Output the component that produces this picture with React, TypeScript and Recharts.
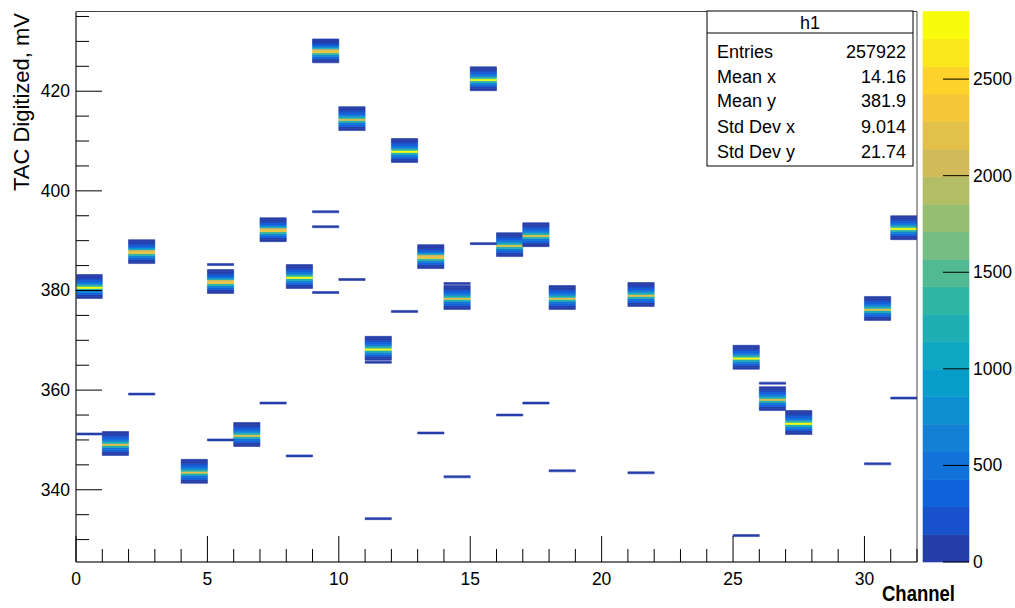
import { ComposedChart, ReferenceArea, XAxis, YAxis } from "recharts";

const X_MIN = 0;
const X_MAX = 32;
const Y_MIN = 325.5;
const Y_MAX = 436;
const Z_MAX = 2850;
const N_LEVELS = 20;
const BIN_H = 0.4;

const xTicks = [0, 1, 2, 3, 4, 5, 6, 7, 8, 9, 10, 11, 12, 13, 14, 15, 16, 17, 18, 19, 20, 21, 22, 23, 24, 25, 26, 27, 28, 29, 30, 31, 32];
const yTicks = [330, 335, 340, 345, 350, 355, 360, 365, 370, 375, 380, 385, 390, 395, 400, 405, 410, 415, 420, 425, 430, 435];
const zTicks = [0, 500, 1000, 1500, 2000, 2500];

// main cluster of each channel: lower edge (mV) and which profile it looks like
const clusterChannels = [0, 1, 2, 4, 5, 6, 7, 8, 9, 10, 11, 12, 13, 14, 15, 16, 17, 18, 21, 25, 26, 27, 30, 31];
const clusterBottoms = [378.4, 346.9, 385.4, 341.3, 379.4, 348.7, 389.8, 380.4, 425.7, 412.1, 366.0, 405.7, 384.4, 376.2, 420.1, 386.8, 388.8, 376.2, 376.8, 364.2, 355.9, 351.1, 374.0, 390.2];
const clusterShapes = [0, 2, 1, 2, 1, 2, 1, 0, 1, 2, 0, 0, 1, 2, 0, 2, 2, 2, 2, 0, 2, 0, 2, 0];

// counts per 0.4 mV bin, low -> high
const profileSharp = [60, 120, 300, 620, 1250, 2750, 1300, 700, 400, 220, 110, 60];
const profileDouble = [60, 120, 300, 620, 1350, 2350, 2000, 900, 420, 220, 110, 60];
const profileSoft = [60, 120, 300, 560, 1150, 2150, 1200, 650, 380, 200, 110, 60];
const profiles = [profileSharp, profileDouble, profileSoft];

// single-bin stragglers
const strayChannels = [0, 2, 5, 5, 7, 8, 9, 9, 9, 10, 11, 11, 12, 13, 14, 14, 15, 16, 17, 18, 21, 25, 26, 30, 31];
const strayValues = [351.2, 359.2, 385.2, 350.0, 357.4, 346.8, 395.8, 392.8, 379.6, 382.2, 365.6, 334.2, 375.8, 351.4, 381.4, 342.6, 389.4, 355.0, 357.4, 343.8, 343.4, 330.8, 361.4, 345.2, 358.4];
const strayCount = 40;

const statLabels = ["Entries", "Mean x", "Mean y", "Std Dev x", "Std Dev y"];
const statValues = ["257922", "14.16", "381.9", "9.014", "21.74"];

// ROOT kBird palette stops
const birdStops = [
  [0.2082, 0.1664, 0.5293],
  [0.0592, 0.3599, 0.8684],
  [0.078, 0.5041, 0.8385],
  [0.0232, 0.6419, 0.7914],
  [0.1802, 0.7178, 0.6425],
  [0.5301, 0.7492, 0.4662],
  [0.8186, 0.7328, 0.3499],
  [0.9956, 0.7862, 0.1968],
  [0.9764, 0.9832, 0.0539],
];

function bird(t: number) {
  const p = Math.min(Math.max(t, 0), 1) * (birdStops.length - 1);
  const i = Math.min(Math.floor(p), birdStops.length - 2);
  const f = p - i;
  const c = birdStops[i].map((v, k) => Math.round(255 * (v + (birdStops[i + 1][k] - v) * f)));
  return `rgb(${c[0]},${c[1]},${c[2]})`;
}

const levelColors = Array.from({ length: N_LEVELS }, (_, i) => bird((i + 1) / N_LEVELS));
const levelStep = Z_MAX / N_LEVELS;

function colorFor(count: number) {
  return levelColors[Math.min(N_LEVELS - 1, Math.floor(count / levelStep))];
}

const cells: { x1: number; x2: number; y1: number; y2: number; fill: string }[] = [];
clusterChannels.forEach((ch, i) => {
  profiles[clusterShapes[i]].forEach((count, k) => {
    const y1 = clusterBottoms[i] + k * BIN_H;
    cells.push({ x1: ch, x2: ch + 1, y1, y2: y1 + BIN_H, fill: colorFor(count) });
  });
});
strayChannels.forEach((ch, i) => {
  cells.push({ x1: ch, x2: ch + 1, y1: strayValues[i] - BIN_H / 2, y2: strayValues[i] + BIN_H / 2, fill: colorFor(strayCount) });
});

const font = "'Liberation Sans', Arial, sans-serif";

const XTick = (props: any) => {
  const { x, y, payload } = props;
  const major = payload.value % 5 === 0;
  return (
    <g>
      <line x1={x} x2={x} y1={y} y2={y - (major ? 26 : 13)} stroke="#000" />
      {major && payload.value < X_MAX && (
        <text x={x} y={y + 23} textAnchor="middle" fontSize={17.5} fontFamily={font} fill="#000">
          {payload.value}
        </text>
      )}
    </g>
  );
};

const YTick = (props: any) => {
  const { x, y, payload } = props;
  const major = payload.value % 20 === 0;
  return (
    <g>
      <line x1={x} x2={x + (major ? 26 : 13)} y1={y} y2={y} stroke="#000" />
      {major && (
        <text x={x - 6} y={y + 6} textAnchor="end" fontSize={17.5} fontFamily={font} fill="#000">
          {payload.value}
        </text>
      )}
    </g>
  );
};

const ZTick = (props: any) => {
  const { x, y, payload } = props;
  return (
    <g>
      <line x1={x - 26} x2={x} y1={y} y2={y} stroke="#000" />
      <text x={x + 4} y={y + 6} textAnchor="start" fontSize={17.5} fontFamily={font} fill="#000">
        {payload.value}
      </text>
    </g>
  );
};

export default function App() {
  return (
    <div style={{ position: "absolute", left: 0, top: 0, width: 1015, height: 608, background: "#fff" }}>
      <div style={{ position: "absolute", left: 0, top: 0 }}>
        <ComposedChart width={1015} height={608} data={[]} margin={{ top: 11.5, right: 98, bottom: 16, left: 16 }}>
          <XAxis
            type="number"
            dataKey="x"
            domain={[X_MIN, X_MAX]}
            ticks={xTicks}
            interval={0}
            height={30}
            tickSize={0}
            tickMargin={0}
            tickLine={false}
            axisLine={{ stroke: "#444" }}
            tick={<XTick />}
            allowDataOverflow
          />
          <YAxis
            type="number"
            dataKey="y"
            domain={[Y_MIN, Y_MAX]}
            ticks={yTicks}
            interval={0}
            width={60}
            tickSize={0}
            tickMargin={0}
            tickLine={false}
            axisLine={{ stroke: "#444" }}
            tick={<YTick />}
            allowDataOverflow
          />
          {cells.map((c, i) => (
            <ReferenceArea
              key={i}
              x1={c.x1}
              x2={c.x2}
              y1={c.y1}
              y2={c.y2}
              fill={c.fill}
              fillOpacity={1}
              stroke={c.fill}
              strokeWidth={0.6}
              ifOverflow="hidden"
            />
          ))}
          <ReferenceArea x1={X_MIN} x2={X_MAX} y1={Y_MIN} y2={Y_MAX} fill="none" stroke="#444" strokeWidth={1} />
        </ComposedChart>
      </div>

      <div style={{ position: "absolute", left: 0, top: 0 }}>
        <ComposedChart width={1015} height={608} data={[]} margin={{ top: 11.5, right: 6, bottom: 46, left: 923 }}>
          <XAxis
            type="number"
            dataKey="x"
            domain={[0, 1]}
            height={0}
            tick={false}
            tickLine={false}
            axisLine={false}
            allowDataOverflow
          />
          <YAxis
            type="number"
            dataKey="z"
            orientation="right"
            domain={[0, Z_MAX]}
            ticks={zTicks}
            interval={0}
            width={40}
            tickSize={0}
            tickMargin={0}
            tickLine={false}
            axisLine={false}
            tick={<ZTick />}
            allowDataOverflow
          />
          {levelColors.map((col, i) => (
            <ReferenceArea
              key={i}
              x1={0}
              x2={1}
              y1={i * levelStep}
              y2={(i + 1) * levelStep}
              fill={col}
              fillOpacity={1}
              stroke={col}
              strokeWidth={0.6}
              ifOverflow="visible"
            />
          ))}
        </ComposedChart>
      </div>

      <svg width={1015} height={608} style={{ position: "absolute", left: 0, top: 0, pointerEvents: "none" }}>
        <text
          x={29}
          y={13}
          transform="rotate(-90 29 13)"
          textAnchor="end"
          fontSize={22}
          fontFamily={font}
          fill="#000"
        >
          TAC Digitized, mV
        </text>
        <text
          x={955}
          y={601}
          textAnchor="end"
          fontSize={22}
          fontWeight="bold"
          fontFamily={font}
          textLength={73}
          lengthAdjust="spacingAndGlyphs"
          fill="#000"
        >
          Channel
        </text>
        <rect x={707} y={11} width={206} height={155} fill="#fff" stroke="#000" />
        <line x1={707} x2={913} y1={33} y2={33} stroke="#000" />
        <text x={810} y={29} textAnchor="middle" fontSize={18} fontFamily={font} fill="#000">
          h1
        </text>
        {statLabels.map((label, i) => (
          <g key={label}>
            <text x={717} y={[58, 83, 107, 133, 158][i]} fontSize={18} fontFamily={font} fill="#000">
              {label}
            </text>
            <text x={906} y={[58, 83, 107, 133, 158][i]} textAnchor="end" fontSize={18} fontFamily={font} fill="#000">
              {statValues[i]}
            </text>
          </g>
        ))}
      </svg>
    </div>
  );
}
